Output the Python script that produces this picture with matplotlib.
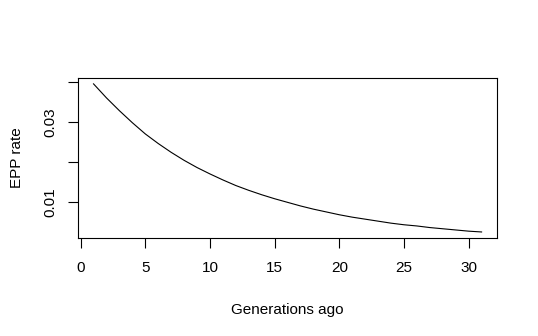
import matplotlib

matplotlib.use("Agg")
import matplotlib.pyplot as plt

# EPP rate by generations ago
generations = list(range(1, 32))
epp_rate = [
    0.0395, 0.0360, 0.0328, 0.0298, 0.0270, 0.0246, 0.0224, 0.0204,
    0.0186, 0.0170, 0.0155, 0.0141, 0.0129, 0.0118, 0.0108, 0.0099,
    0.0090, 0.0082, 0.0075, 0.0068, 0.0062, 0.0057, 0.0052, 0.0047,
    0.0043, 0.0040, 0.0036, 0.0033, 0.0030, 0.0027, 0.0025,
]
x_ticks = [0, 5, 10, 15, 20, 25, 30]
y_ticks = [0.01, 0.02, 0.03, 0.04]
y_tick_labels = ["0.01", "", "0.03", ""]

plt.rcParams["font.family"] = ["Liberation Sans", "DejaVu Sans"]

fig = plt.figure(figsize=(5.38, 3.36), dpi=100)
ax = fig.add_axes([0.145, 0.292, 0.779, 0.476])
ax.plot(generations, epp_rate, color="black", lw=0.8)

# R-style 4% padding on both axes
xr = max(generations) - min(generations)
yr = max(epp_rate) - min(epp_rate)
ax.set_xlim(min(generations) - 0.04 * xr, max(generations) + 0.04 * xr)
ax.set_ylim(min(epp_rate) - 0.04 * yr, max(epp_rate) + 0.04 * yr)

ax.set_xticks(x_ticks)
ax.set_yticks(y_ticks)
ax.set_yticklabels(y_tick_labels, rotation=90, va="center")
ax.tick_params(direction="out", length=7, width=0.8, labelsize=11)
ax.tick_params(axis="x", pad=10)
ax.tick_params(axis="y", pad=8)
for s in ax.spines.values():
    s.set_linewidth(0.8)

ax.set_xlabel("Generations ago", fontsize=11, labelpad=20)
ax.set_ylabel("EPP rate", fontsize=11, labelpad=14)

fig.savefig("out.png", dpi=100)
